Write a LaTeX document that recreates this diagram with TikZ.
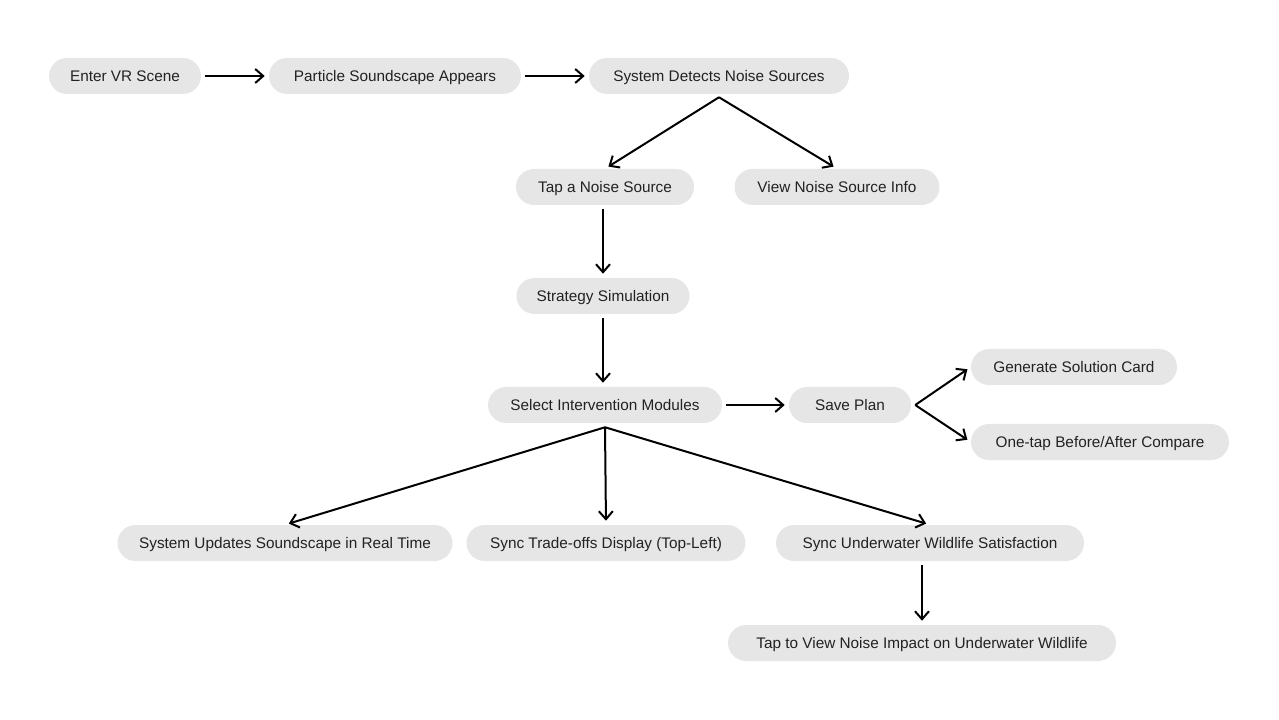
\documentclass[tikz,border=0pt]{standalone}
\usepackage{fontspec}
\setmainfont{Liberation Sans}
\usetikzlibrary{arrows.meta,positioning}
\definecolor{pillgray}{HTML}{E6E6E6}
\definecolor{inkgray}{HTML}{222222}
\tikzset{
  stepbox/.style={fill=pillgray,text=inkgray,rounded corners=13.5pt,
    minimum height=27pt,inner xsep=10pt,inner ysep=0pt,
    text height=9.6pt,text depth=1.5pt,font=\fontsize{11.5pt}{13pt}\selectfont},
  flow/.style={-{Straight Barb[length=6pt,width=10.5pt]},line width=1.5pt,black,
    shorten <=3pt,shorten >=3pt},
  fan/.style={flow,shorten <=0pt}
}
\begin{document}
\begin{tikzpicture}[x=0.75pt,y=-0.75pt]
\useasboundingbox (0,0) rectangle (1279,720);
% top row
\node[stepbox,minimum width=114pt] (enter) at (125,76) {Enter VR Scene};
\node[stepbox,minimum width=189pt] (particle) at (395,76) {Particle Soundscape Appears};
\node[stepbox,minimum width=195pt] (detect) at (719,76) {System Detects Noise Sources};
% noise sources
\node[stepbox,minimum width=133.5pt] (tap) at (605,187) {Tap a Noise Source};
\node[stepbox,minimum width=153.75pt] (info) at (837,187) {View Noise Source Info};
\node[stepbox,minimum width=129.75pt] (strategy) at (603,296) {Strategy Simulation};
% intervention
\node[stepbox,minimum width=175.5pt] (select) at (605,405) {Select Intervention Modules};
\node[stepbox,minimum width=91.5pt] (save) at (850,405) {Save Plan};
\node[stepbox,minimum width=154.5pt] (card) at (1074,367) {Generate Solution Card};
\node[stepbox,minimum width=193.5pt] (compare) at (1100,442) {One-tap Before/After Compare};
% bottom row
\node[stepbox,minimum width=251.25pt] (updates) at (285,543) {System Updates Soundscape in Real Time};
\node[stepbox,minimum width=209.25pt] (tradeoffs) at (606,543) {Sync Trade-offs Display (Top-Left)};
\node[stepbox,minimum width=231pt] (wildlife) at (930,543) {Sync Underwater Wildlife Satisfaction};
\node[stepbox,minimum width=291pt] (impact) at (922,643) {Tap to View Noise Impact on Underwater Wildlife};

\draw[flow] (enter) -- (particle);
\draw[flow] (particle) -- (detect);
\draw[fan] ([yshift=-2.25pt]detect.south) -- (tap.north);
\draw[fan] ([yshift=-2.25pt]detect.south) -- (info.north);
\draw[flow] (tap.south -| strategy) -- (strategy);
\draw[flow] (strategy) -- (select.north -| strategy);
\draw[flow] (select) -- (save);
\draw[fan] ([xshift=3pt]save.east) -- (card.west);
\draw[fan] ([xshift=3pt]save.east) -- (compare.west);
\draw[fan] ([yshift=-3pt]select.south) -- (updates.north);
\draw[fan] ([yshift=-3pt]select.south) -- (tradeoffs.north);
\draw[fan] ([yshift=-3pt]select.south) -- (wildlife.north);
\draw[flow] (wildlife.south -| impact) -- (impact);
\end{tikzpicture}
\end{document}
